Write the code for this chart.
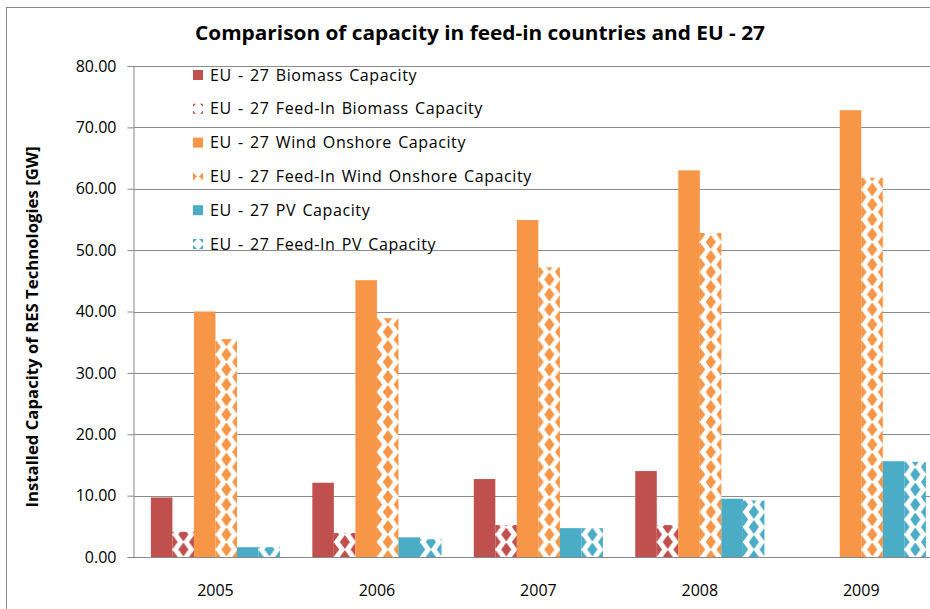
<!DOCTYPE html>
<html>
<head>
<meta charset="utf-8">
<script src="https://cdn.jsdelivr.net/npm/d3@7"></script>
<style>
  body { margin: 0; background: #fff; }
  svg { display: block; font-family: "Open Sans", sans-serif; }
</style>
</head>
<body>
<script>
const years = ["2005", "2006", "2007", "2008", "2009"];
const seriesNames = [
  "EU - 27 Biomass Capacity",
  "EU - 27 Feed-In Biomass Capacity",
  "EU - 27 Wind Onshore Capacity",
  "EU - 27 Feed-In Wind Onshore Capacity",
  "EU - 27 PV Capacity",
  "EU - 27 Feed-In PV Capacity",
];
const biomass = [9.7, 12.1, 12.7, 14.0, 0];
const feedBiomass = [4.1, 3.9, 5.2, 5.2, 0];
const wind = [40.0, 45.1, 54.9, 63.0, 72.8];
const feedWind = [35.5, 38.9, 47.2, 52.8, 61.8];
const pv = [1.6, 3.2, 4.7, 9.5, 15.6];
const feedPv = [1.6, 2.9, 4.7, 9.2, 15.5];
const yTicks = [0, 10, 20, 30, 40, 50, 60, 70, 80];

const vizBarChart = () => {
  const width = 930;
  const height = 609;
  const plot = { left: 134.75, right: 942, top: 66, bottom: 557 };

  const colors = ["#C0504D", "#C0504D", "#F79646", "#F79646", "#4BACC6", "#4BACC6"];
  const patterned = [false, true, false, true, false, true];
  const values = [biomass, feedBiomass, wind, feedWind, pv, feedPv];

  const rows = years.map((year, i) => ({
    year,
    bars: values.map((v, s) => ({ year, s, value: v[i] })),
  }));

  const xScale = d3
    .scaleBand()
    .domain(years)
    .range([plot.left, plot.right])
    .paddingInner(0.2)
    .paddingOuter(0.1);

  const xInner = d3
    .scaleBand()
    .domain(d3.range(seriesNames.length))
    .range([0, xScale.bandwidth()]);

  const yScale = d3
    .scaleLinear()
    .domain([0, 80])
    .range([plot.bottom, plot.top]);

  const svg = d3
    .select("body")
    .append("svg")
    .attr("width", width)
    .attr("height", height);

  const defs = svg.append("defs");

  // chart border
  svg
    .append("rect")
    .attr("x", 6.5)
    .attr("y", 7.5)
    .attr("width", width + 20)
    .attr("height", height + 20)
    .attr("fill", "#fff")
    .attr("stroke", "#868686")
    .attr("stroke-width", "1");

  svg
    .append("text")
    .attr("x", 480)
    .attr("y", 40)
    .attr("text-anchor", "middle")
    .attr("font-size", "19")
    .attr("font-weight", "bold")
    .attr("fill", "#000")
    .attr("textLength", 570)
    .attr("lengthAdjust", "spacingAndGlyphs")
    .text("Comparison of capacity in feed-in countries and EU - 27");

  // gridlines
  svg
    .append("g")
    .selectAll("line")
    .data(yTicks.slice(1))
    .join("line")
    .attr("x1", plot.left - 1)
    .attr("x2", width)
    .attr("y1", (d) => Math.round(yScale(d)) + 0.5)
    .attr("y2", (d) => Math.round(yScale(d)) + 0.5)
    .attr("stroke", "#8c8c8c")
    .attr("stroke-width", "1");

  // diamond pattern, anchored on each bar
  const makePattern = (id, color, x0) => {
    const pw = xInner.bandwidth();
    const ph = 15;
    const hw = pw / 4 - 0.3;
    const hh = ph / 2 - 0.6;
    const p = defs
      .append("pattern")
      .attr("id", id)
      .attr("patternUnits", "userSpaceOnUse")
      .attr("x", x0)
      .attr("y", plot.bottom)
      .attr("width", pw)
      .attr("height", ph);
    p.append("rect").attr("width", pw).attr("height", ph).attr("fill", "#fff");
    const centers = [
      [0, 0], [pw, 0], [0, ph], [pw, ph], [pw / 2, ph / 2],
    ];
    p.selectAll("path")
      .data(centers)
      .join("path")
      .attr("d", ([cx, cy]) => `M ${cx} ${cy - hh} L ${cx + hw} ${cy} L ${cx} ${cy + hh} L ${cx - hw} ${cy} Z`)
      .attr("fill", color);
  };

  const groups = svg
    .append("g")
    .selectAll("g")
    .data(rows)
    .join("g")
    .attr("transform", (d) => `translate(${xScale(d.year)} 0)`);

  groups
    .selectAll("rect")
    .data((d) => d.bars.filter((b) => b.value > 0))
    .join("rect")
    .attr("x", (d) => xInner(d.s))
    .attr("y", (d) => yScale(d.value))
    .attr("width", xInner.bandwidth())
    .attr("height", (d) => plot.bottom - yScale(d.value))
    .attr("fill", (d) => {
      if (!patterned[d.s]) return colors[d.s];
      const id = `pat-${d.year}-${d.s}`;
      makePattern(id, colors[d.s], xScale(d.year) + xInner(d.s));
      return `url(#${id})`;
    });

  // axes
  const yAxis = d3
    .axisLeft(yScale)
    .tickValues(yTicks)
    .tickSize(6)
    .tickPadding(11)
    .tickFormat(d3.format(".2f"));

  const yAxisGroup = svg
    .append("g")
    .attr("transform", `translate(${Math.round(plot.left) - 1.5} 0)`)
    .call(yAxis);
  yAxisGroup.select(".domain").attr("stroke", "#868686");
  yAxisGroup.selectAll(".tick line").attr("stroke", "#868686");
  yAxisGroup
    .selectAll("text")
    .attr("font-size", "16")
    .attr("font-family", "Open Sans, sans-serif")
    .attr("fill", "#000");

  svg
    .append("line")
    .attr("x1", plot.left - 2)
    .attr("x2", width)
    .attr("y1", plot.bottom + 0.5)
    .attr("y2", plot.bottom + 0.5)
    .attr("stroke", "#868686");

  svg
    .append("g")
    .selectAll("text")
    .data(years)
    .join("text")
    .attr("x", (d) => xScale(d) + xScale.bandwidth() / 2)
    .attr("y", 596)
    .attr("text-anchor", "middle")
    .attr("font-size", "16")
    .attr("fill", "#000")
    .text((d) => d);

  svg
    .append("text")
    .attr("transform", "translate(38 327) rotate(-90)")
    .attr("text-anchor", "middle")
    .attr("font-size", "16")
    .attr("font-weight", "bold")
    .attr("fill", "#000")
    .attr("textLength", 361)
    .attr("lengthAdjust", "spacingAndGlyphs")
    .text("Installed Capacity of RES Technologies [GW]");

  // legend
  const legendSwatch = [
    null,
    "M0 0 H3 L0 3 Z M10 0 H7 L10 3 Z M0 10 H3 L0 7 Z M10 10 H7 L10 7 Z",
    null,
    "M0 1 L4 5 L0 9 Z M10 1 L6 5 L10 9 Z",
    null,
    "M0 0 H4 L0 4 Z M10 0 H6 L10 4 Z M0 10 H4 L0 6 Z M10 10 H6 L10 6 Z",
  ];

  const legend = svg
    .append("g")
    .selectAll("g")
    .data(seriesNames)
    .join("g")
    .attr("transform", (d, i) => `translate(193 ${75 + i * 33.8})`);

  legend
    .append("rect")
    .attr("x", 0)
    .attr("y", -5)
    .attr("width", 10)
    .attr("height", 10)
    .attr("fill", (d, i) => (patterned[i] ? "#fff" : colors[i]));

  legend
    .filter((d, i) => patterned[i])
    .append("path")
    .attr("transform", "translate(0 -5)")
    .attr("d", (d) => legendSwatch[seriesNames.indexOf(d)])
    .attr("fill", (d) => colors[seriesNames.indexOf(d)]);

  legend
    .append("text")
    .attr("x", 17)
    .attr("y", 5.5)
    .attr("font-size", "16")
    .attr("word-spacing", "1.5")
    .attr("letter-spacing", "0.6")
    .attr("fill", "#000")
    .text((d) => d);
};

vizBarChart();
</script>
</body>
</html>
